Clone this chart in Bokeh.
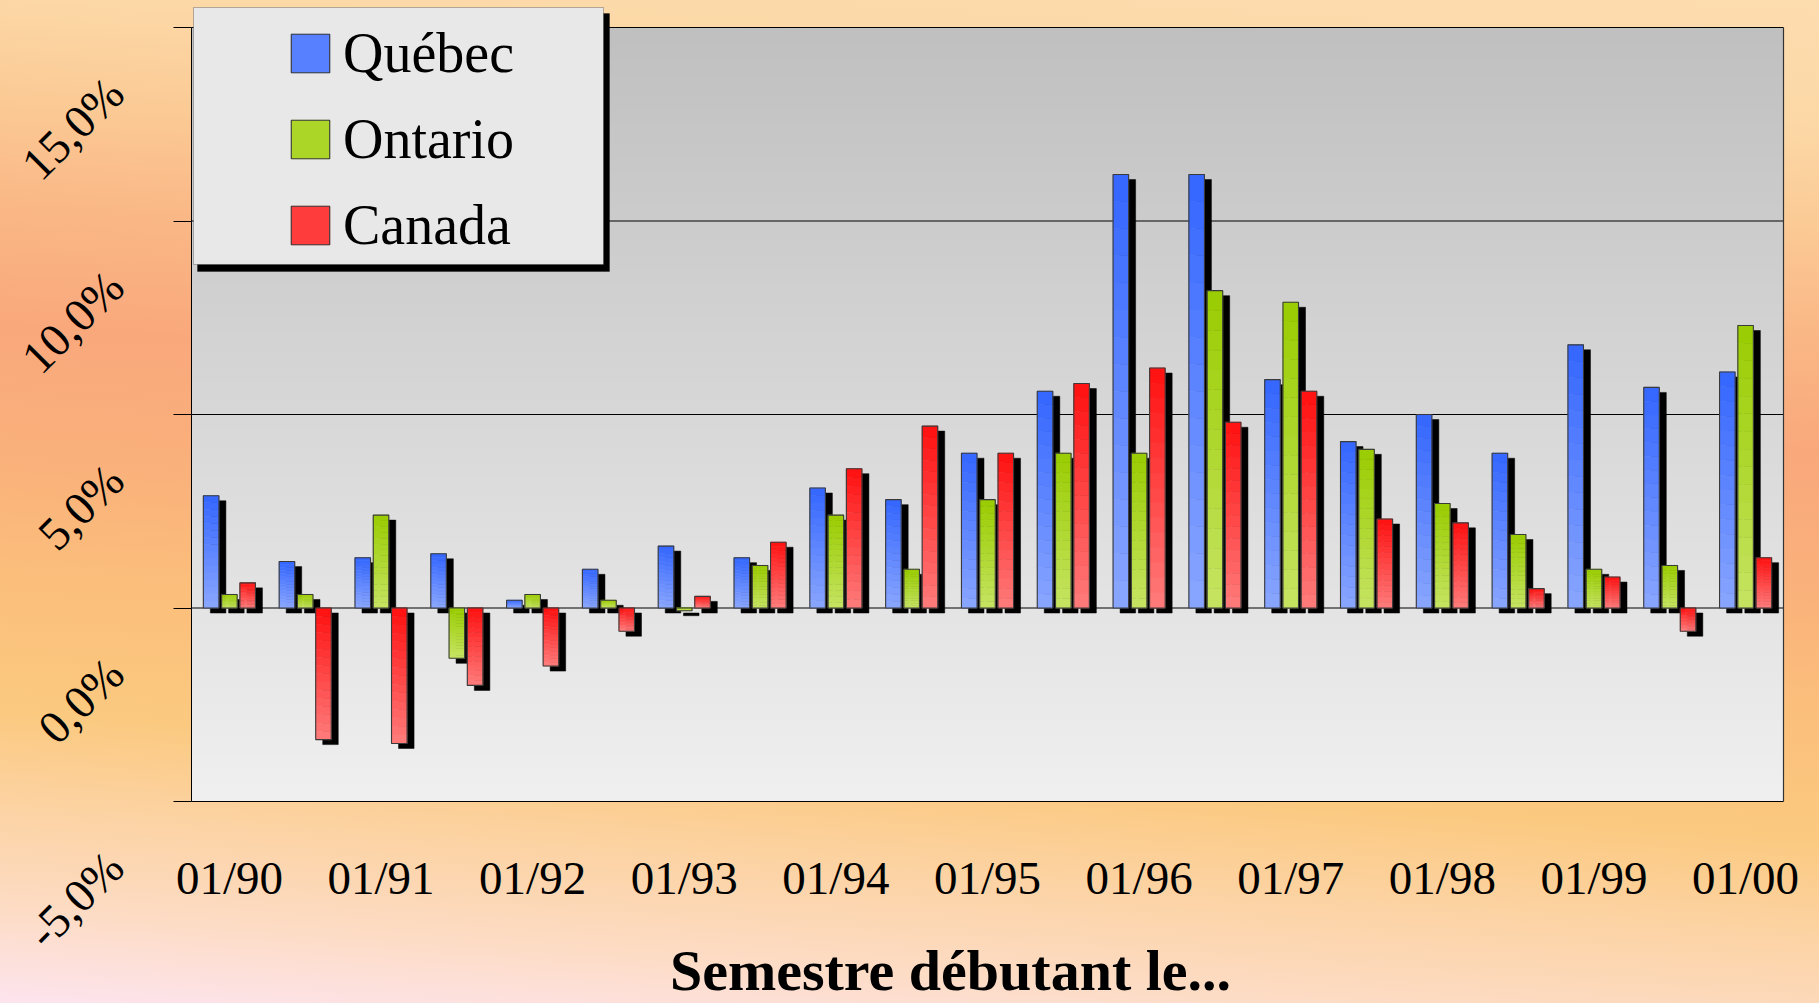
import numpy as np
from bokeh.plotting import figure
from bokeh.models import (ColumnDataSource, FixedTicker, Legend, LegendItem,
                          BoxAnnotation, LinearAxis, Range1d)
from bokeh.embed import file_html
from bokeh.resources import INLINE

# ---------------- data ----------------
semesters = ["01/90", "07/90", "01/91", "07/91", "01/92", "07/92", "01/93",
             "07/93", "01/94", "07/94", "01/95", "07/95", "01/96", "07/96",
             "01/97", "07/97", "01/98", "07/98", "01/99", "07/99", "01/00"]
quebec = [2.9, 1.2, 1.3, 1.4, 0.2, 1.0, 1.6, 1.3, 3.1, 2.8, 4.0, 5.6,
          11.2, 11.2, 5.9, 4.3, 5.0, 4.0, 6.8, 5.7, 6.1]
ontario = [0.35, 0.35, 2.4, -1.3, 0.35, 0.2, -0.07, 1.1, 2.4, 1.0, 2.8, 4.0,
           4.0, 8.2, 7.9, 4.1, 2.7, 1.9, 1.0, 1.1, 7.3]
canada = [0.65, -3.4, -3.5, -2.0, -1.5, -0.6, 0.3, 1.7, 3.6, 4.7, 4.0, 5.8,
          6.2, 4.8, 5.6, 2.3, 2.2, 0.5, 0.8, -0.6, 1.3]
series_names = ["Québec", "Ontario", "Canada"]
y_ticks = [-5, 0, 5, 10, 15]
y_tick_labels = ["-5,0%", "0,0%", "5,0%", "10,0%", "15,0%"]
x_title = "Semestre débutant le..."

# ---------------- layout / style ----------------
FONT = "Liberation Serif"
W, H = 1819, 1003
# plot area in canvas pixels
PA_L, PA_R, PA_T, PA_B = 191, 1783, 27, 801
px_x0, px_x1 = 0, len(semesters)
px_y0, px_y1 = y_ticks[0], y_ticks[-1]
sx = (PA_R - PA_L) / (px_x1 - px_x0)     # px per x unit
sy = (PA_B - PA_T) / (px_y1 - px_y0)     # px per y unit
x_rng = (px_x0 - PA_L / sx, px_x1 + (W - PA_R) / sx)
y_rng = (px_y0 - (H - PA_B) / sy, px_y1 + PA_T / sy)

top_colors = [(51, 102, 255), (153, 204, 0), (255, 16, 16)]
bot_colors = [(138, 166, 255), (198, 228, 98), (255, 124, 124)]
BAR_W = 0.205
BAR_STEP = 0.241
SH_DX = 7 / sx
SH_DY = 5 / sy
N_SL = 16

p = figure(width=W, height=H, x_range=x_rng, y_range=y_rng,
           output_backend="svg", toolbar_location=None,
           min_border_left=0, min_border_right=0, min_border_top=0, min_border_bottom=0)
p.border_fill_color = None
p.background_fill_color = None
p.outline_line_color = None
p.grid.visible = False
p.styles = {"background-image": "linear-gradient(184deg, #fddcae 0%, #fcd8a6 11%, #fbca95 20%, "
            "#fab887 29%, #f9a87c 40%, #fab17b 52%, #fbbd7b 61%, #fbc97f 74%, "
            "#fcd3a4 83%, #fddcc6 92%, #fde4ee 100%)"}

# plot-area vertical gradient
ng = 256
g = np.linspace(240, 192, ng).astype(np.uint32)
img = np.empty((ng, 2), dtype=np.uint32)
view = img.view(dtype=np.uint8).reshape((ng, 2, 4))
view[:, :, 0] = g[:, None]
view[:, :, 1] = g[:, None]
view[:, :, 2] = g[:, None]
view[:, :, 3] = 255
p.image_rgba(image=[img], x=px_x0, y=px_y0, dw=px_x1 - px_x0, dh=px_y1 - px_y0, level="image")

# gridlines (span the plot area only) + right border
p.segment(x0=[px_x0] * len(y_ticks), x1=[px_x1] * len(y_ticks), y0=y_ticks, y1=y_ticks,
          line_color="black", line_width=1, level="underlay")
p.segment(x0=[px_x1], x1=[px_x1], y0=[px_y0], y1=[px_y1], line_color="#333333",
          line_width=1.2, level="underlay")

# bars
all_series = [quebec, ontario, canada]
idx = np.arange(len(semesters))
legend_items = []
for s, vals_s in enumerate(all_series):
    v = np.array(vals_s, dtype=float)
    xc = idx + 0.5 + (s - 1) * BAR_STEP
    p.vbar(x=xc + SH_DX, width=BAR_W, top=np.maximum(v, 0) - SH_DY,
           bottom=np.minimum(v, 0) - SH_DY,
           fill_color="black", line_color="black", line_width=0.5)

for s, vals_s in enumerate(all_series):
    v = np.array(vals_s, dtype=float)
    xc = idx + 0.5 + (s - 1) * BAR_STEP
    top = np.maximum(v, 0)
    bot = np.minimum(v, 0)
    L, R, T, B, C = [], [], [], [], []
    tc = np.array(top_colors[s], dtype=float)
    bc = np.array(bot_colors[s], dtype=float)
    for j in range(len(v)):
        span = top[j] - bot[j]
        for k in range(N_SL):
            t = (k + 0.5) / N_SL
            col = tc + (bc - tc) * t
            L.append(xc[j] - BAR_W / 2)
            R.append(xc[j] + BAR_W / 2)
            T.append(top[j] - span * k / N_SL)
            B.append(top[j] - span * (k + 1) / N_SL)
            C.append("#%02x%02x%02x" % tuple(int(round(c)) for c in col))
    src = ColumnDataSource(dict(left=L, right=R, top=T, bottom=B, color=C))
    r_fill = p.quad(left="left", right="right", top="top", bottom="bottom",
                    fill_color="color", line_color="color", line_width=0.6, source=src)
    r_line = p.vbar(x=xc, width=BAR_W, top=top, bottom=bot,
                    fill_alpha=0, line_color="#3a3a3a", line_width=1.1)
    legend_items.append(LegendItem(label=series_names[s], renderers=[r_fill, r_line], index=6))

# legend background + shadow (canvas px)
p.add_layout(BoxAnnotation(left=197, right=609, top=13, bottom=271,
                           left_units="canvas", right_units="canvas",
                           top_units="canvas", bottom_units="canvas",
                           fill_color="black", fill_alpha=1, line_color="black"))
p.add_layout(BoxAnnotation(left=193, right=603, top=7, bottom=264,
                           left_units="canvas", right_units="canvas",
                           top_units="canvas", bottom_units="canvas",
                           fill_color="#e8e8e8", fill_alpha=1, line_color="#222222",
                           line_width=1))
legend = Legend(items=legend_items, location=(286, 746), orientation="vertical",
                glyph_width=48, glyph_height=48, label_standoff=9,
                label_text_font=FONT, label_text_font_size="56px", label_text_color="black",
                spacing=22, padding=0, margin=0,
                border_line_alpha=0, background_fill_alpha=0)
p.add_layout(legend, "center")

# x axis at the plot-area bottom
xa = p.xaxis[0]
xa.fixed_location = px_y0
xa.bounds = (-0.48, 20.504)
xa.ticker = FixedTicker(ticks=[i + 0.5 for i in range(0, len(semesters), 2)])
xa.major_label_overrides = {i + 0.5: semesters[i] for i in range(0, len(semesters), 2)}
xa.major_tick_out = 0
xa.major_tick_in = 0
xa.minor_tick_line_color = None
xa.axis_line_color = None
xa.major_label_text_font = FONT
xa.major_label_text_font_size = "47px"
xa.major_label_text_color = "black"
xa.major_label_standoff = 50
xa.axis_label = x_title
xa.axis_label_text_font = FONT
xa.axis_label_text_font_size = "58px"
xa.axis_label_text_font_style = "bold"
xa.axis_label_text_color = "black"
xa.axis_label_standoff = 31

# y axis: ticks and left border
ya = p.yaxis[0]
ya.fixed_location = px_x0
ya.bounds = (px_y0, px_y1)
ya.ticker = FixedTicker(ticks=y_ticks)
ya.major_label_overrides = {t: "" for t in y_ticks}
ya.major_tick_out = 18
ya.major_tick_in = 0
ya.major_tick_line_color = "black"
ya.minor_tick_line_color = None
ya.axis_line_color = "black"

# y tick labels: rotated, hanging below their tick (shifted label range)
LBL_OFF = 58 / sy
p.extra_y_ranges = {"ylab": Range1d(start=y_rng[0] + LBL_OFF, end=y_rng[1] + LBL_OFF)}
la = LinearAxis(y_range_name="ylab", fixed_location=(115 - PA_L) / sx,
                ticker=FixedTicker(ticks=y_ticks),
                major_label_overrides={t: l for t, l in zip(y_ticks, y_tick_labels)},
                major_label_orientation=np.pi / 4, major_label_standoff=0,
                major_tick_out=0, major_tick_in=0, minor_tick_line_color=None,
                major_tick_line_color=None, axis_line_color=None,
                major_label_text_font=FONT, major_label_text_font_size="47px",
                major_label_text_color="black")
p.add_layout(la, "left")

open("out.html", "w").write(file_html(p, INLINE))
